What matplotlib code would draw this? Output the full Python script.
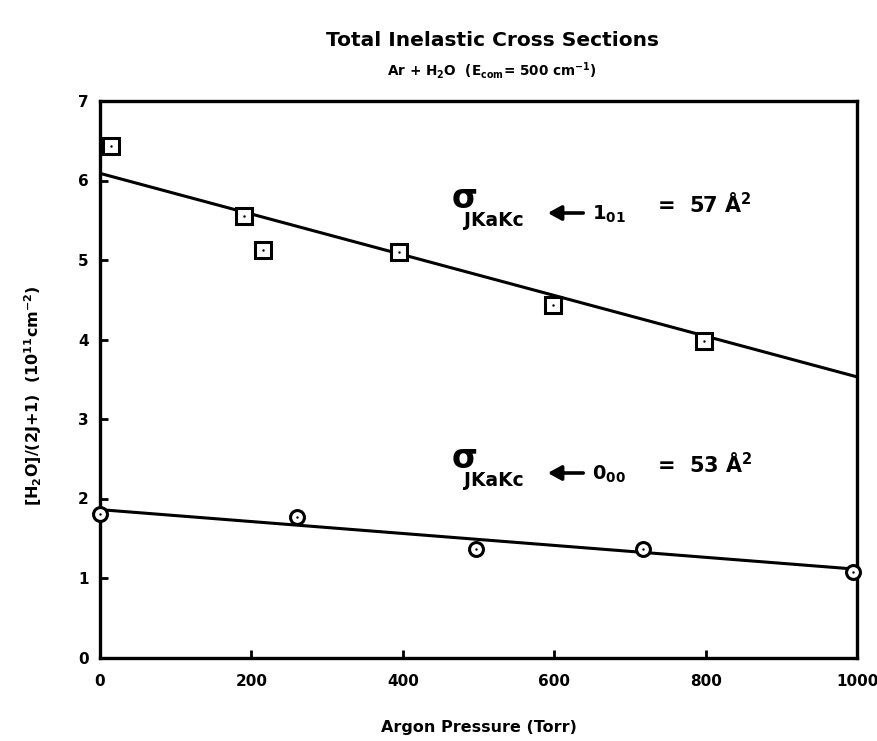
import matplotlib
matplotlib.use("Agg")
import matplotlib.pyplot as plt

plt.rcParams['font.family'] = ['DejaVu Sans']
plt.rcParams['font.weight'] = 'bold'
plt.rcParams['mathtext.fontset'] = 'custom'
plt.rcParams['mathtext.rm'] = 'DejaVu Sans:bold'
plt.rcParams['mathtext.it'] = 'DejaVu Sans:bold'
plt.rcParams['mathtext.bf'] = 'DejaVu Sans:bold'

# 1_01 level (squares)
sq_x = [15, 190, 215, 395, 598, 798]
sq_y = [6.43, 5.55, 5.13, 5.10, 4.43, 3.98]
# 0_00 level (circles)
circ_x = [0, 260, 497, 717, 995]
circ_y = [1.80, 1.77, 1.36, 1.36, 1.08]

# linear fits
fit_x = [0, 1000]
fit_101 = [6.09, 3.53]
fit_000 = [1.86, 1.11]

x_ticks = [0, 200, 400, 600, 800, 1000]
y_ticks = [0, 1, 2, 3, 4, 5, 6, 7]

W, H = 877, 741
fig = plt.figure(figsize=(W / 100, H / 100), dpi=100)
ax = fig.add_axes([100 / W, 1 - 657.5 / H, 757 / W, 556.5 / H])


def px(x, y):
    return x / W, 1 - y / H


ax.plot(fit_x, fit_101, color='black', lw=2.2, solid_capstyle='butt')
ax.plot(fit_x, fit_000, color='black', lw=2.2, solid_capstyle='butt')

ax.plot(sq_x, sq_y, ls='none', marker='s', ms=11.5, mfc='white', mec='black',
        mew=2.2, clip_on=False, zorder=3)
ax.plot(sq_x, sq_y, ls='none', marker='.', ms=1.5, color='black',
        clip_on=False, zorder=4)
ax.plot(circ_x, circ_y, ls='none', marker='o', ms=10, mfc='white', mec='black',
        mew=2.2, clip_on=False, zorder=3)
ax.plot(circ_x, circ_y, ls='none', marker='.', ms=1.5, color='black',
        clip_on=False, zorder=4)

ax.set_xlim(0, 1000)
ax.set_ylim(0, 7)
ax.set_xticks(x_ticks)
ax.set_yticks(y_ticks)
ax.tick_params(direction='in', length=6, width=2, labelsize=11, pad=8)
ax.tick_params(axis='x', pad=12)
for sp in ax.spines.values():
    sp.set_linewidth(2.4)

ax.set_xlabel('Argon Pressure (Torr)', fontsize=11.5, fontweight='bold', labelpad=22)
ax.set_ylabel(r'[H$_2$O]/(2J+1)  (10$^{11}$cm$^{-2}$)', fontsize=11.5,
              fontweight='bold')
ax.yaxis.set_label_coords(-0.074, 0.47)

fig.text(*px(492, 40), 'Total Inelastic Cross Sections', fontsize=14.5,
         fontweight='bold', ha='center', va='center')
fig.text(*px(492, 70), r'Ar + H$_2$O  (E$_{com}$= 500 cm$^{-1}$)', fontsize=9.8,
         ha='center', va='center')

# cross-section labels
for dy, top, sub, val in [(0, '1', '01', '57'), (260, '0', '00', '53')]:
    fig.text(*px(451, 208 + dy), r'$\sigma$', fontsize=24, va='baseline')
    fig.text(*px(464, 226 + dy), 'JKaKc', fontsize=13.5, va='baseline')
    fig.add_artist(matplotlib.patches.FancyArrowPatch(
        px(586, 213 + dy), px(545, 213 + dy), transform=fig.transFigure,
        arrowstyle='-|>,head_length=0.4,head_width=0.22', lw=2.6,
        color='black', mutation_scale=20))
    fig.text(*px(592, 220 + dy), r'$%s_{%s}$' % (top, sub), fontsize=14,
             va='baseline')
    fig.text(*px(657, 213 + dy), r'=  %s Å$^2$' % val, fontsize=15, va='baseline')

fig.savefig('out.png', dpi=100)
